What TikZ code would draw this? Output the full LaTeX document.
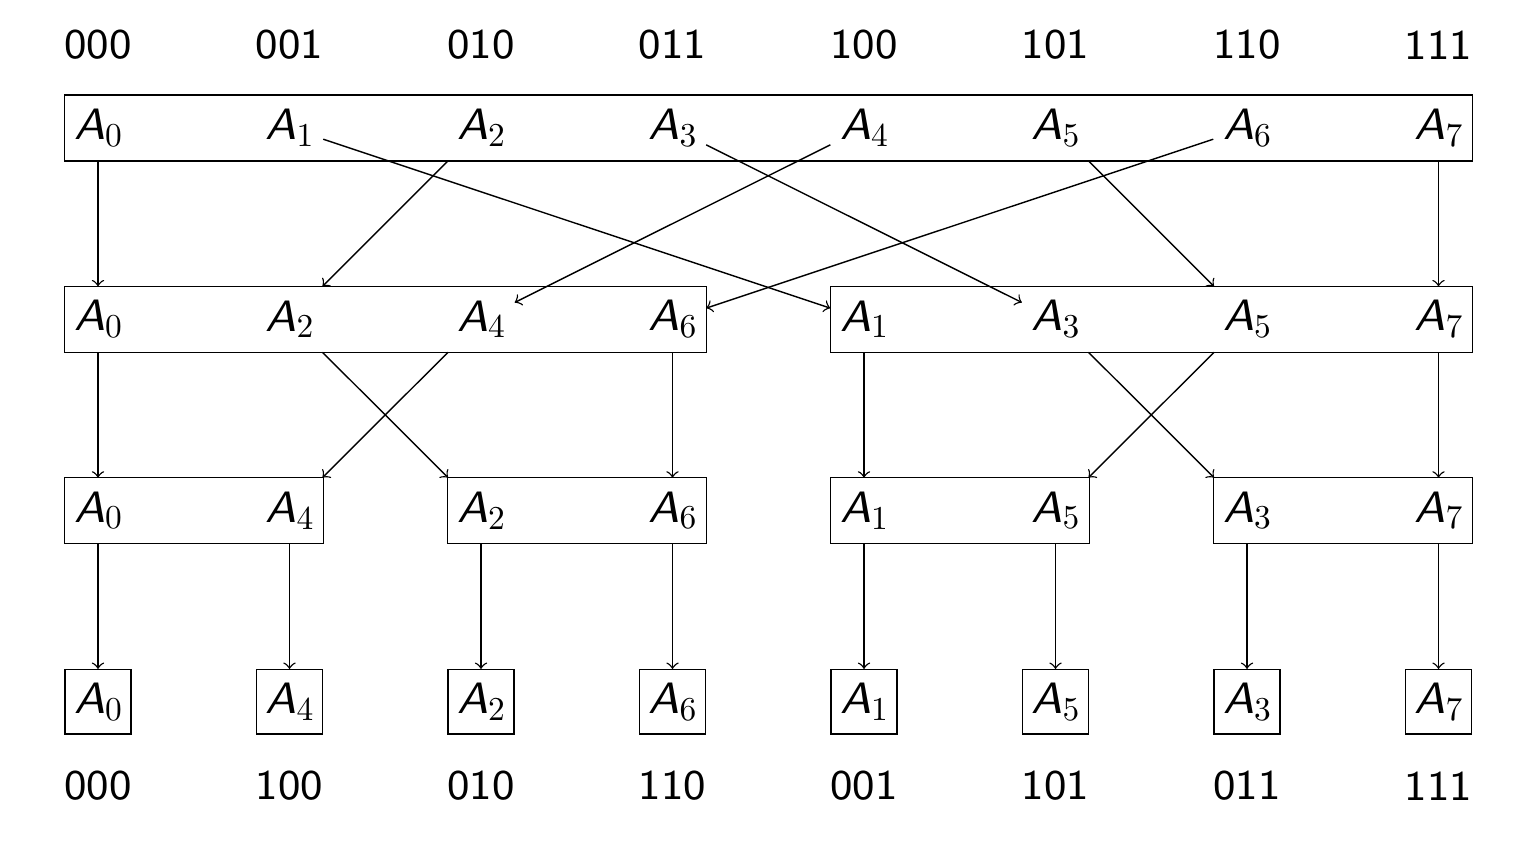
\documentclass[tikz,border=0pt]{standalone}
\usepackage{fontspec}
\setsansfont{lmsans8-regular.otf}[ItalicFont=lmsans8-oblique.otf]
\newcommand{\elem}[1]{\textsf{\textit{A}}\raisebox{-1.9pt}{\rmfamily\fontsize{9.5}{10}\selectfont #1}}
\begin{document}
\begin{tikzpicture}[x=1.915cm, y=1.913cm, >=to,
    cell/.style={inner sep=0pt, minimum width=0.66cm, minimum height=0.645cm, font=\fontsize{12.5}{14}\selectfont},
    bits/.style={inner sep=0pt, font=\sffamily\fontsize{12}{14}\selectfont}]
  \useasboundingbox (-0.98cm,1.28cm) rectangle (14.15cm,-7.20cm);
  % labels
  \foreach \b [count=\c from 0] in {000,001,010,011,100,101,110,111}
    \node[bits] (t\c) at (\c,0.434) {\b};
  \foreach \b [count=\c from 0] in {000,100,010,110,001,101,011,111}
    \node[bits] (u\c) at (\c,-3.44) {\b};
  % rows
  \foreach \k in {0,...,7}
    \node[cell] (a\k) at (\k,0) {\elem{\k}};
  \foreach \k/\c in {0/0,2/1,4/2,6/3,1/4,3/5,5/6,7/7}
    \node[cell] (b\k) at (\c,-1) {\elem{\k}};
  \foreach \k/\c in {0/0,4/1,2/2,6/3,1/4,5/5,3/6,7/7} {
    \node[cell] (c\k) at (\c,-2) {\elem{\k}};
    \node[cell, draw] (d\k) at (\c,-3) {\elem{\k}};
  }
  % boxes
  \draw (a0.north west) rectangle (a7.south east);
  \draw (b0.north west) rectangle (b6.south east);
  \draw (b1.north west) rectangle (b7.south east);
  \draw (c0.north west) rectangle (c4.south east);
  \draw (c2.north west) rectangle (c6.south east);
  \draw (c1.north west) rectangle (c5.south east);
  \draw (c3.north west) rectangle (c7.south east);
  % arrows
  \foreach \k in {0,...,7} {
    \draw[->] (a\k) -- (b\k);
    \draw[->] (b\k) -- (c\k);
    \draw[->] (c\k) -- (d\k);
  }
\end{tikzpicture}
\end{document}
